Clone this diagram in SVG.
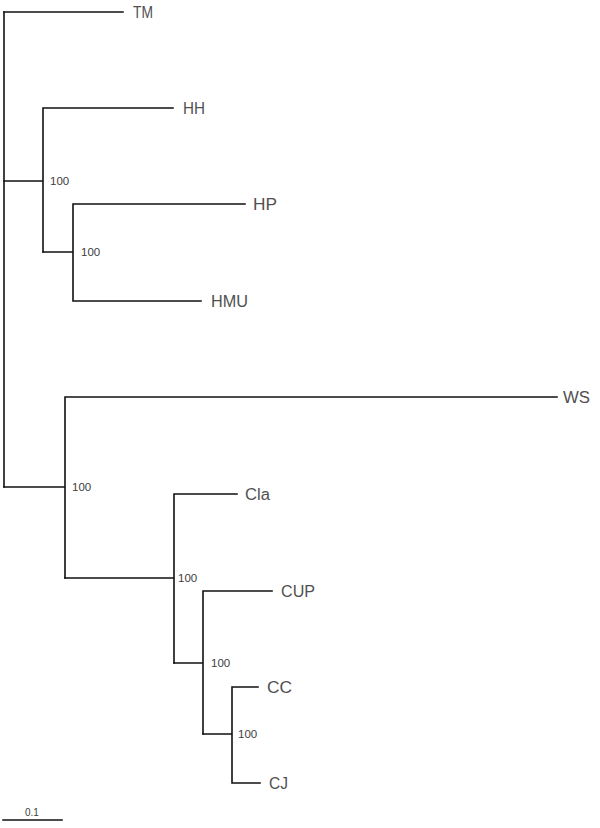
<svg xmlns="http://www.w3.org/2000/svg" width="600" height="828" viewBox="0 0 600 828">
<style>
.e{stroke:#111;stroke-width:1.6;fill:none;stroke-linecap:square}
.t{font-family:"Liberation Sans",Arial,sans-serif;font-size:16px;fill:#505050}
.b{font-family:"Liberation Sans",Arial,sans-serif;font-size:11.5px;fill:#404040}
.s{font-family:"Liberation Sans",Arial,sans-serif;font-size:10px;fill:#404040}
</style>
<rect width="600" height="828" fill="#fff"/>
<g id="connectors">
<path class="e" d="M4,12V487"/>
<path class="e" d="M4,12H123"/>
<path class="e" d="M4,181H43M43,108V252M43,108H173"/>
<path class="e" d="M43,252H73M73,204V301M73,204H245M73,301H201"/>
<path class="e" d="M4,487H65M65,397V578M65,397H557"/>
<path class="e" d="M65,578H174M174,494V663M174,494H237"/>
<path class="e" d="M174,663H203M203,591V734M203,591H272"/>
<path class="e" d="M203,734H232M232,687V783M232,687H258M232,783H260"/>
</g>
<g id="TM"><text class="t" x="133" y="18" textLength="20" lengthAdjust="spacingAndGlyphs">TM</text></g>
<g id="HH"><text class="t" x="183" y="114" textLength="22" lengthAdjust="spacingAndGlyphs">HH</text></g>
<g id="HP"><text class="t" x="253" y="210" textLength="24" lengthAdjust="spacingAndGlyphs">HP</text></g>
<g id="HMU"><text class="t" x="211" y="307" textLength="37" lengthAdjust="spacingAndGlyphs">HMU</text></g>
<g id="WS"><text class="t" x="563" y="403" textLength="27" lengthAdjust="spacingAndGlyphs">WS</text></g>
<g id="Cla"><text class="t" x="245" y="500" textLength="25" lengthAdjust="spacingAndGlyphs">Cla</text></g>
<g id="CUP"><text class="t" x="281" y="597" textLength="34" lengthAdjust="spacingAndGlyphs">CUP</text></g>
<g id="CC"><text class="t" x="267" y="693" textLength="25" lengthAdjust="spacingAndGlyphs">CC</text></g>
<g id="CJ"><text class="t" x="269" y="789" textLength="19" lengthAdjust="spacingAndGlyphs">CJ</text></g>
<g id="node1"><text class="b" x="50" y="185">100</text></g>
<g id="node2"><text class="b" x="81" y="256">100</text></g>
<g id="node3"><text class="b" x="72" y="491">100</text></g>
<g id="node4"><text class="b" x="178" y="582">100</text></g>
<g id="node5"><text class="b" x="211" y="667">100</text></g>
<g id="node6"><text class="b" x="238" y="738">100</text></g>
<g id="scale">
<path class="e" d="M3,820H62"/>
<text class="s" x="25" y="816">0.1</text>
</g>
</svg>
